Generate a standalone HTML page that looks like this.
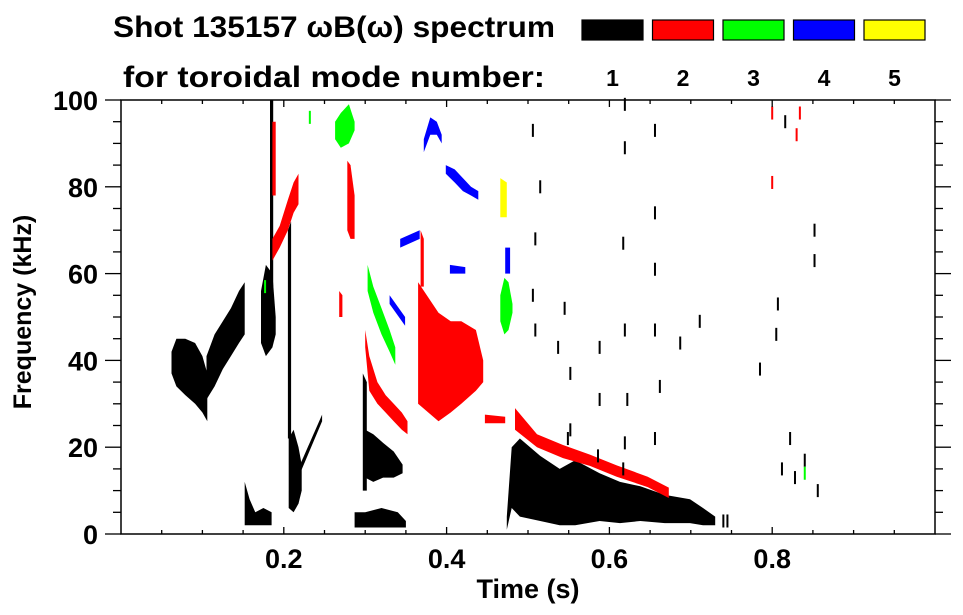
<!DOCTYPE html>
<html><head><meta charset="utf-8"><style>
html,body{margin:0;padding:0;background:#fff;}
svg{display:block;font-family:"Liberation Sans",Arial,sans-serif;font-weight:bold;}
</style></head><body>
<svg id="chart" width="963" height="615" viewBox="0 0 963 615" xmlns="http://www.w3.org/2000/svg">
<g>
<text x="113" y="37" font-size="30" textLength="442" lengthAdjust="spacingAndGlyphs">Shot 135157 ωB(ω) spectrum</text>
<text x="123" y="87" font-size="30" textLength="422" lengthAdjust="spacingAndGlyphs">for toroidal mode number:</text>
</g>
<g id="legend"></g>
<g id="marks"></g>
<g id="axes"></g>
<text x="528" y="598" font-size="27" text-anchor="middle">Time (s)</text>
<text transform="translate(31,312) rotate(-90)" font-size="25" text-anchor="middle">Frequency (kHz)</text>
</svg>
<script>
const modeLabels = ["1","2","3","4","5"];
const modeColors = ["#000000","#ff0000","#00ff00","#0000ff","#ffff00"];
const xTicks = [0.2,0.4,0.6,0.8];
const xTickLabels = ["0.2","0.4","0.6","0.8"];
const yTicks = [0,20,40,60,80,100];
const yTickLabels = ["0","20","40","60","80","100"];

// Features: each has times, lower freq, upper freq (kHz) and mode number
const fA_t=[.062,.068,.079,.091,.100,.106], fA_lo=[37,34,32,30,28,26], fA_hi=[42,45,45,44,41,37];
const fB_t=[.105,.115,.125,.135,.145,.152], fB_lo=[31,34,38,41,44,46], fB_hi=[41,46,49,52,56,58];
const fC_t=[.172,.178,.186,.190], fC_lo=[44,41,43,46], fC_hi=[56,62,60,50];
const fD_t=[.183,.187], fD_lo=[57,57], fD_hi=[100,100];
const fE1_t=[.205,.209], fE1_lo=[22,22], fE1_hi=[70,72];
const fE2_t=[.206,.212,.218,.222], fE2_lo=[6,5,7,10], fE2_hi=[22,24,20,16];
const fF_t=[.220,.247], fF_lo=[14,26], fF_hi=[16,27.5];
const fG_t=[.152,.158,.165,.175,.185], fG_lo=[2,2,2,2,2], fG_hi=[12,8,5,6,5];
const fH1_t=[.297,.302], fH1_lo=[10,10], fH1_hi=[37,35];
const fH2_t=[.300,.310,.322,.335,.346], fH2_lo=[13,12,13,13,14], fH2_hi=[24,23,21,19,16];
const fI_t=[.287,.30,.32,.34,.35], fI_lo=[1.5,1.5,1.5,1.5,1.5], fI_hi=[5,5,6,5,3];
const fJ_t=[.474,.480,.490,.515,.539,.558,.588,.613,.638,.668,.699,.715,.730];
const fJ_lo=[1,6,4,3,2,2,3,2.5,3,2.5,2.5,2,2];
const fJ_hi=[4,20,22,18,15,17,14,12,11,9,8,6,4];
const r1_t=[.186,.195,.205,.212,.218], r1_lo=[63,66,70,74,76], r1_hi=[68,71,77,81,83];
const r1b_t=[.186,.190], r1b_lo=[78,78], r1b_hi=[95,95];
const r2_t=[.278,.282,.287], r2_lo=[70,68,68], r2_hi=[86,85,78];
const r3_t=[.300,.305,.315,.325,.335,.345,.352], r3_lo=[43,33,30,28,26,24,23], r3_hi=[47,41,35,32,30,28,26];
const r4_t=[.365,.390,.405,.418,.436,.445], r4_lo=[30,26,28,30,33,35], r4_hi=[58,51,49,49,47,40];
const r4b_t=[.368,.372], r4b_lo=[57,57], r4b_hi=[70,68];
const r5_t=[.447,.472], r5_lo=[25.5,25.5], r5_hi=[27.5,27];
const r6_t=[.484,.511,.543,.576,.609,.647,.673], r6_lo=[24,20,17.5,15.7,13.2,10.8,8.3], r6_hi=[29,23,20.5,18.3,15.8,13.2,10.7];
const r7_t=[.268,.272], r7_lo=[50,50], r7_hi=[56,55];
const g1_t=[.263,.27,.28,.287], g1_lo=[91,89,90,93], g1_hi=[95,97,99,95];
const g2_t=[.303,.31,.32,.33,.337], g2_lo=[56,51,46,42,39], g2_hi=[62,57,52,47,43];
const g3_t=[.466,.471,.476,.481], g3_lo=[49,46,47,51], g3_hi=[55,59,58,53];
const b1_t=[.372,.38,.388,.394], b1_lo=[88,92,92,90], b1_hi=[91,96,95,92];
const b2_t=[.399,.41,.42,.43,.439], b2_lo=[83,81,79,78,77], b2_hi=[85,84,82,80,79];
const b3_t=[.343,.367], b3_lo=[66,68], b3_hi=[68,70];
const b4_t=[.404,.423], b4_lo=[60,60], b4_hi=[62,61.5];
const b5_t=[.330,.349], b5_lo=[53,48], b5_hi=[55,50];
const b6_t=[.472,.478], b6_lo=[60,60], b6_hi=[66,66];
const y1_t=[.466,.474], y1_lo=[73,73], y1_hi=[82,81];

const features = [
 [fA_t,fA_lo,fA_hi,1],[fB_t,fB_lo,fB_hi,1],[fC_t,fC_lo,fC_hi,1],[fD_t,fD_lo,fD_hi,1],
 [fE1_t,fE1_lo,fE1_hi,1],[fE2_t,fE2_lo,fE2_hi,1],[fF_t,fF_lo,fF_hi,1],[fG_t,fG_lo,fG_hi,1],
 [fH1_t,fH1_lo,fH1_hi,1],[fH2_t,fH2_lo,fH2_hi,1],[fI_t,fI_lo,fI_hi,1],[fJ_t,fJ_lo,fJ_hi,1],
 [r1_t,r1_lo,r1_hi,2],[r1b_t,r1b_lo,r1b_hi,2],[r2_t,r2_lo,r2_hi,2],[r3_t,r3_lo,r3_hi,2],
 [r4_t,r4_lo,r4_hi,2],[r4b_t,r4b_lo,r4b_hi,2],[r5_t,r5_lo,r5_hi,2],[r6_t,r6_lo,r6_hi,2],[r7_t,r7_lo,r7_hi,2],
 [g1_t,g1_lo,g1_hi,3],[g2_t,g2_lo,g2_hi,3],[g3_t,g3_lo,g3_hi,3],
 [b1_t,b1_lo,b1_hi,4],[b2_t,b2_lo,b2_hi,4],[b3_t,b3_lo,b3_hi,4],[b4_t,b4_lo,b4_hi,4],[b5_t,b5_lo,b5_hi,4],[b6_t,b6_lo,b6_hi,4],
 [y1_t,y1_lo,y1_hi,5]
];

// isolated specks: time, frequency, mode
const speckT=[.506,.515,.509,.506,.509,.537,.545,.552,.552,.549,.588,.588,.586,.619,.619,.617,.619,.622,.619,.617,.656,.656,.656,.656,.662,.656,.687,.711,.785,.807,.812,.822,.828,.840,.856,.852,.852,.816,.800,.800,.830,.834,.840,.177,.232,.805,.740,.745];
const speckF=[93,80,68,55,47,43,52,37,24,22,43,31,18,99,89,67,47,31,21,15,93,74,61,47,34,22,44,49,38,53,15,22,13,17,10,63,70,95,97,81,92,97,14,57,96,46,3,3];
const speckM=[1,1,1,1,1,1,1,1,1,1,1,1,1,1,1,1,1,1,1,1,1,1,1,1,1,1,1,1,1,1,1,1,1,1,1,1,1,1,2,2,2,2,3,3,3,1,1,1];

const X0=121, X1=935, Y0=534, Y1=100;
const xs = t => X0 + t*(X1-X0);
const ys = f => Y0 - f*(Y0-Y1)/100;
const NS="http://www.w3.org/2000/svg";
function mk(tag, attrs, parent){const e=document.createElementNS(NS,tag);for(const k in attrs)e.setAttribute(k,attrs[k]);parent.appendChild(e);return e;}

const marks=document.getElementById('marks');
features.forEach((fe,i)=>{
  const [t,lo,hi,m]=fe;
  const pts=[];
  for(let k=0;k<t.length;k++)pts.push(xs(t[k]).toFixed(1)+","+ys(hi[k]).toFixed(1));
  for(let k=t.length-1;k>=0;k--)pts.push(xs(t[k]).toFixed(1)+","+ys(lo[k]).toFixed(1));
  const p=mk('polygon',{points:pts.join(" "),fill:modeColors[m-1]},marks);
  
  
});
speckT.forEach((t,i)=>{
  const f=speckF[i];
  const r=mk('rect',{x:xs(t)-1,y:ys(f+1.5),width:2,height:ys(f-1.5)-ys(f+1.5),fill:modeColors[speckM[i]-1]},marks);
  
  
});

const axes=document.getElementById('axes');
mk('rect',{x:X0,y:Y1,width:X1-X0,height:Y0-Y1,fill:'none',stroke:'#000','stroke-width':1.5},axes);
for(let t=0.05;t<0.999;t+=0.05){
  const major=Math.abs(t*5-Math.round(t*5))<1e-6;
  const len=major?7:4;
  mk('line',{x1:xs(t),x2:xs(t),y1:Y0,y2:Y0-len,stroke:'#000','stroke-width':1.3},axes);
  mk('line',{x1:xs(t),x2:xs(t),y1:Y1,y2:Y1+len,stroke:'#000','stroke-width':1.3},axes);
}
for(let f=5;f<100;f+=5){
  const major=f%20===0;
  const len=major?16:8;
  mk('line',{x1:X0,x2:X0-len,y1:ys(f),y2:ys(f),stroke:'#000','stroke-width':1.3},axes);
  mk('line',{x1:X1,x2:X1+len,y1:ys(f),y2:ys(f),stroke:'#000','stroke-width':1.3},axes);
}
mk('line',{x1:X0,x2:X0-16,y1:Y1,y2:Y1,stroke:'#000','stroke-width':1.3},axes);
mk('line',{x1:X0,x2:X0-16,y1:Y0,y2:Y0,stroke:'#000','stroke-width':1.3},axes);
mk('line',{x1:X1,x2:X1+16,y1:Y1,y2:Y1,stroke:'#000','stroke-width':1.3},axes);
mk('line',{x1:X1,x2:X1+16,y1:Y0,y2:Y0,stroke:'#000','stroke-width':1.3},axes);
xTicks.forEach((t,i)=>{
  const e=mk('text',{x:xs(t),y:568,'font-size':27,'text-anchor':'middle'},axes);
  e.textContent=xTickLabels[i];
  
  
});
yTicks.forEach((f,i)=>{
  const e=mk('text',{x:98,y:ys(f)+10,'font-size':27,'text-anchor':'end'},axes);
  e.textContent=yTickLabels[i];
  
  
});

const legend=document.getElementById('legend');
modeLabels.forEach((lab,i)=>{
  const bx=582+i*70.5;
  const r=mk('rect',{x:bx,y:20,width:61,height:20,fill:modeColors[i],stroke:'#000','stroke-width':1.2},legend);
  
  
  const t=mk('text',{x:bx+30.5,y:86,'font-size':23,'text-anchor':'middle'},legend);
  t.textContent=lab;
  
  
});
</script>
</body></html>
